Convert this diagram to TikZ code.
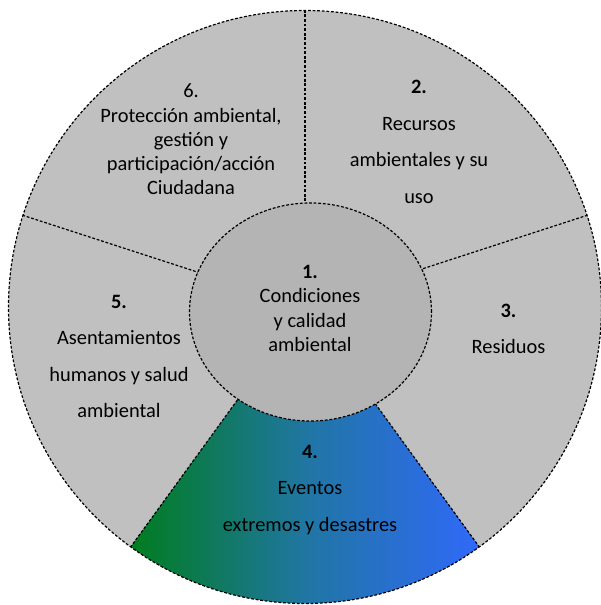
\documentclass[tikz,border=0pt]{standalone}
\usepackage{fontspec}
\setmainfont{Carlito}
\usepackage{tikz}

\definecolor{ringgray}{RGB}{192,192,192}
\definecolor{coregray}{RGB}{180,180,180}
\definecolor{evgreen}{RGB}{0,124,30}
\definecolor{evteal}{RGB}{32,118,162}
\definecolor{evblue}{RGB}{48,105,250}

\tikzset{
	border/.style={black, line width=1.2pt, dash pattern=on 2.8pt off 1.8pt},
	tight/.style={align=center, font=\fontsize{20.4}{24.3}\selectfont},
	loose/.style={align=center, font=\fontsize{20.4}{36.5}\selectfont}
}

\begin{document}
\begin{tikzpicture}[x=1pt, y=1pt]
	\def\R{296.5}
	\def\rx{121}
	\def\ry{109}

	\useasboundingbox (-305,-298) rectangle (296,307);

	\fill[ringgray] (0,0) circle (\R);
	\begin{scope}
		\clip (0,0) -- (234:\R) arc[start angle=234, end angle=306, radius=\R] -- cycle;
		\shade[left color=evgreen, right color=evblue, middle color=evteal] (-175,-\R) rectangle (175,0);
	\end{scope}
	\foreach \a in {18,90,162,234,306}
		\draw[border] (0,0) -- (\a:\R);
	\draw[border] (0,0) circle (\R);
	\draw[border, fill=coregray] (5.5,-5) ellipse [x radius=\rx, y radius=\ry];

	\node[tight] (core) at (5,-1.5) {\textbf{1.}\\Condiciones\\y calidad\\ambiental};
	\node[loose] (recursos) at (114,165) {\textbf{2.}\\Recursos\\ambientales y su\\uso};
	\node[loose] (residuos) at (203.5,-22) {\textbf{3.}\\Residuos};
	\node[loose] (eventos) at (5,-183) {\textbf{4.}\\Eventos\\extremos y desastres};
	\node[loose] (asentamientos) at (-186,-49.5) {\textbf{5.}\\Asentamientos\\humanos y salud\\ambiental};
	\node[tight] (proteccion) at (-114,167.5) {6.\\Protección ambiental,\\gestión y\\participación/acción\\Ciudadana};
\end{tikzpicture}
\end{document}
